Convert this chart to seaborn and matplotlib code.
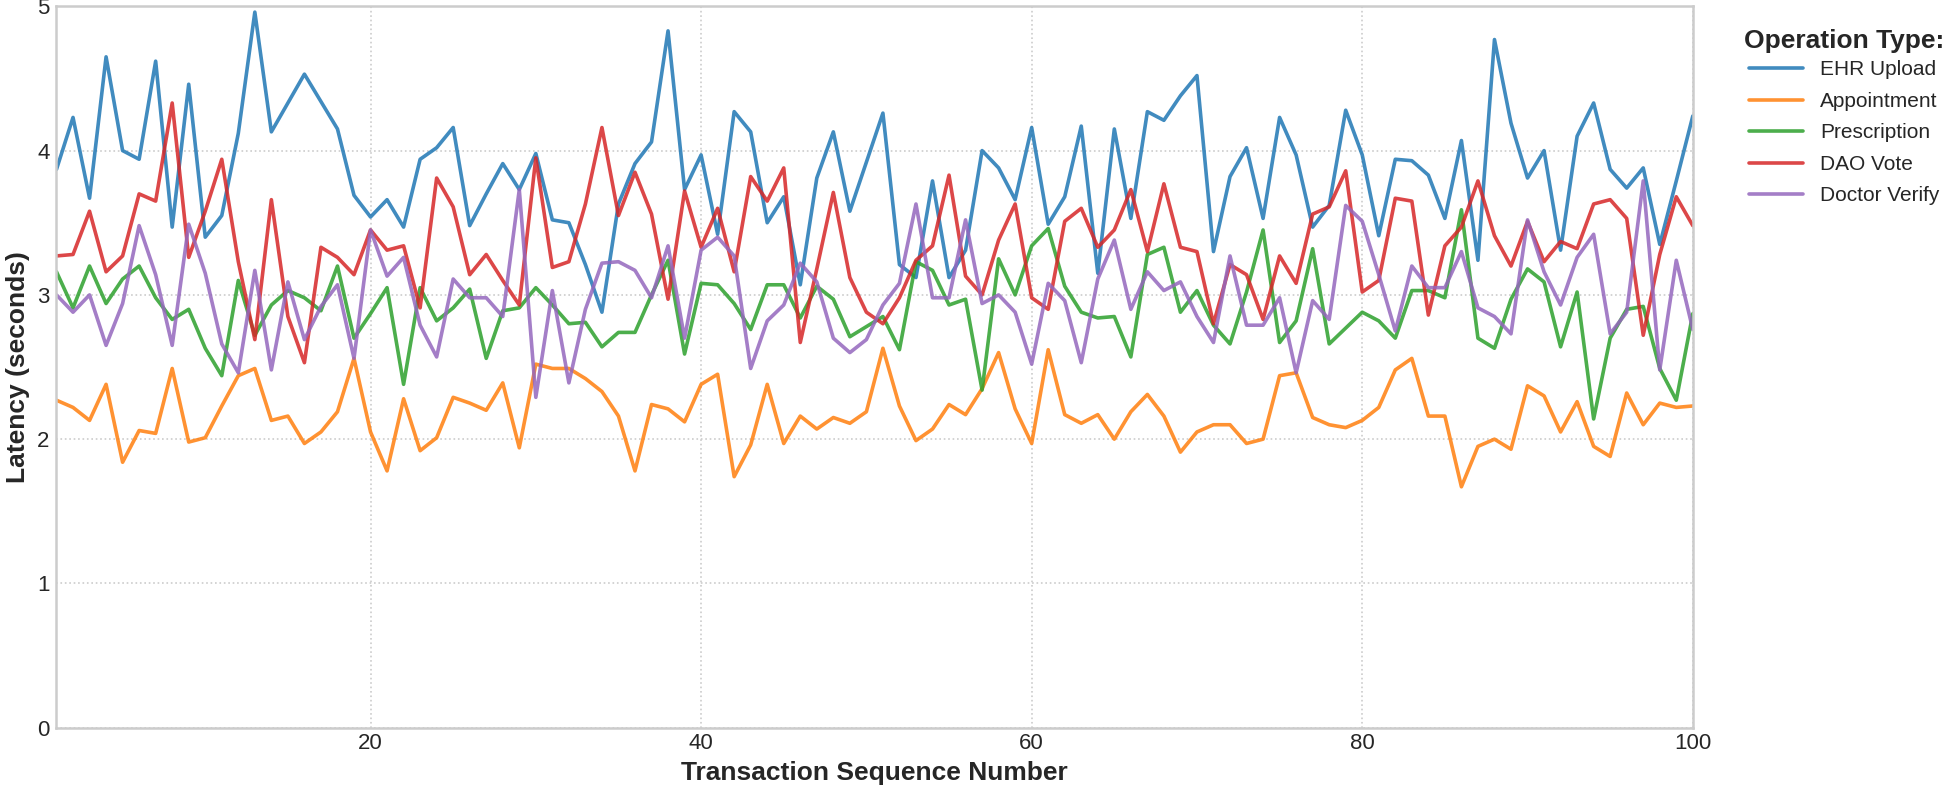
import matplotlib
matplotlib.use("Agg")
import matplotlib.pyplot as plt
import seaborn as sns
import numpy as np
import pandas as pd

# Latency per transaction
seq = list(range(1, 101))

ehr_upload = [
    3.87, 4.23, 3.67, 4.65, 4.00, 3.94, 4.62, 3.47, 4.46, 3.40, 3.55, 4.12, 4.96, 4.13, 4.33,
    4.53, 4.34, 4.15, 3.69, 3.54, 3.66, 3.47, 3.94, 4.02, 4.16, 3.48, 3.70, 3.91, 3.73,
    3.98, 3.52, 3.50, 3.21, 2.88, 3.63, 3.91, 4.06, 4.83, 3.73, 3.97, 3.42, 4.27, 4.13,
    3.50, 3.68, 3.07, 3.81, 4.13, 3.58, 3.92, 4.26, 3.21, 3.12, 3.79, 3.12, 3.31, 4.00,
    3.88, 3.66, 4.16, 3.49, 3.68, 4.17, 3.15, 4.15, 3.53, 4.27, 4.21, 4.38, 4.52, 3.30,
    3.82, 4.02, 3.53, 4.23, 3.97, 3.47, 3.62, 4.28, 3.97, 3.41, 3.94, 3.93, 3.83, 3.53,
    4.07, 3.24, 4.77, 4.19, 3.81, 4.00, 3.31, 4.10, 4.33, 3.87, 3.74, 3.88, 3.35, 3.79, 4.24,
]
appointment = [
    2.27, 2.22, 2.13, 2.38, 1.84, 2.06, 2.04, 2.49, 1.98, 2.01, 2.23, 2.44, 2.49, 2.13, 2.16,
    1.97, 2.05, 2.19, 2.56, 2.05, 1.78, 2.28, 1.92, 2.01, 2.29, 2.25, 2.20, 2.39, 1.94,
    2.52, 2.49, 2.49, 2.42, 2.33, 2.16, 1.78, 2.24, 2.21, 2.12, 2.38, 2.45, 1.74, 1.96,
    2.38, 1.97, 2.16, 2.07, 2.15, 2.11, 2.19, 2.63, 2.23, 1.99, 2.07, 2.24, 2.17, 2.35,
    2.60, 2.21, 1.97, 2.62, 2.17, 2.11, 2.17, 2.00, 2.19, 2.31, 2.16, 1.91, 2.05, 2.10,
    2.10, 1.97, 2.00, 2.44, 2.46, 2.15, 2.10, 2.08, 2.13, 2.22, 2.48, 2.56, 2.16, 2.16,
    1.67, 1.95, 2.00, 1.93, 2.37, 2.30, 2.05, 2.26, 1.95, 1.88, 2.32, 2.10, 2.25, 2.22, 2.23,
]
prescription = [
    3.16, 2.91, 3.20, 2.94, 3.11, 3.20, 2.98, 2.83, 2.90, 2.63, 2.44, 3.10, 2.72, 2.93, 3.03,
    2.98, 2.89, 3.20, 2.70, 2.87, 3.05, 2.38, 3.05, 2.82, 2.91, 3.04, 2.56, 2.89, 2.91,
    3.05, 2.93, 2.80, 2.81, 2.64, 2.74, 2.74, 3.00, 3.24, 2.59, 3.08, 3.07, 2.94, 2.76,
    3.07, 3.07, 2.84, 3.06, 2.97, 2.71, 2.78, 2.85, 2.62, 3.23, 3.17, 2.93, 2.97, 2.34,
    3.25, 3.00, 3.34, 3.46, 3.06, 2.88, 2.84, 2.85, 2.57, 3.28, 3.33, 2.88, 3.03, 2.79,
    2.66, 3.02, 3.45, 2.67, 2.82, 3.32, 2.66, 2.77, 2.88, 2.82, 2.70, 3.03, 3.03, 2.98,
    3.59, 2.70, 2.63, 2.97, 3.18, 3.09, 2.64, 3.02, 2.14, 2.70, 2.90, 2.92, 2.49, 2.27, 2.87,
]
dao_vote = [
    3.27, 3.28, 3.58, 3.16, 3.27, 3.70, 3.65, 4.33, 3.26, 3.58, 3.94, 3.23, 2.69, 3.66, 2.85,
    2.53, 3.33, 3.26, 3.14, 3.45, 3.31, 3.34, 2.91, 3.81, 3.61, 3.14, 3.28, 3.10, 2.93,
    3.95, 3.19, 3.23, 3.63, 4.16, 3.55, 3.85, 3.56, 2.97, 3.72, 3.33, 3.60, 3.16, 3.82,
    3.65, 3.88, 2.67, 3.18, 3.71, 3.12, 2.88, 2.80, 2.98, 3.24, 3.34, 3.83, 3.13, 3.00,
    3.38, 3.63, 2.98, 2.90, 3.51, 3.60, 3.33, 3.45, 3.73, 3.30, 3.77, 3.33, 3.30, 2.80,
    3.21, 3.14, 2.83, 3.27, 3.08, 3.56, 3.61, 3.86, 3.02, 3.10, 3.67, 3.65, 2.86, 3.34,
    3.47, 3.79, 3.41, 3.20, 3.51, 3.23, 3.37, 3.32, 3.63, 3.66, 3.53, 2.72, 3.28, 3.68, 3.48,
]
doctor_verify = [
    3.00, 2.88, 3.00, 2.65, 2.94, 3.48, 3.14, 2.65, 3.49, 3.15, 2.66, 2.46, 3.17, 2.48, 3.09,
    2.69, 2.92, 3.07, 2.56, 3.45, 3.13, 3.26, 2.79, 2.57, 3.11, 2.98, 2.98, 2.85, 3.73,
    2.29, 3.03, 2.39, 2.90, 3.22, 3.23, 3.17, 2.98, 3.34, 2.70, 3.31, 3.40, 3.27, 2.49,
    2.82, 2.93, 3.22, 3.09, 2.70, 2.60, 2.69, 2.93, 3.08, 3.63, 2.98, 2.98, 3.52, 2.94,
    3.00, 2.88, 2.52, 3.08, 2.96, 2.53, 3.11, 3.38, 2.90, 3.16, 3.03, 3.09, 2.85, 2.67,
    3.27, 2.79, 2.79, 2.98, 2.46, 2.96, 2.83, 3.62, 3.51, 3.14, 2.75, 3.20, 3.05, 3.05,
    3.30, 2.91, 2.85, 2.73, 3.52, 3.16, 2.93, 3.26, 3.42, 2.73, 2.88, 3.79, 2.48, 3.24, 2.76,
]

operations = ["EHR Upload", "Appointment", "Prescription", "DAO Vote", "Doctor Verify"]
series = [ehr_upload, appointment, prescription, dao_vote, doctor_verify]

frames = []
for name, values in zip(operations, series):
    frames.append(pd.DataFrame({"seq": seq, "latency": values, "op": name}))
df = pd.concat(frames, ignore_index=True)

sns.set_theme(style="whitegrid")
plt.rcParams["font.family"] = ["Liberation Sans", "DejaVu Sans"]

fig, ax = plt.subplots(figsize=(19.48, 7.91), dpi=100)
fig.subplots_adjust(left=0.029, right=0.869, top=0.992, bottom=0.080)

palette = sns.color_palette("tab10", 5)
sns.lineplot(data=df, x="seq", y="latency", hue="op", hue_order=operations,
             palette=palette, linewidth=2.6, alpha=0.85, ax=ax)

ax.set_xlim(1, 100)
ax.set_ylim(0, 5)
ax.set_xticks([20, 40, 60, 80, 100])
ax.set_yticks([0, 1, 2, 3, 4, 5])
ax.tick_params(axis="both", labelsize=16, length=0)
ax.tick_params(axis="y", pad=5)
ax.tick_params(axis="x", pad=4)
ax.set_xlabel("Transaction Sequence Number", fontsize=19, fontweight="bold", labelpad=5)
ax.set_ylabel("Latency (seconds)", fontsize=19, fontweight="bold", labelpad=5)

ax.grid(True, linestyle=":", color="#cccccc", linewidth=1.2)
for side in ax.spines.values():
    side.set_color("#cccccc")
    side.set_linewidth(1.8)

leg = ax.legend(title="Operation Type:", loc="upper left", bbox_to_anchor=(1.02, 0.994),
                frameon=False, fontsize=15, title_fontsize=19, handlelength=2.6,
                labelspacing=0.6)
leg.get_title().set_fontweight("bold")
# tighter gap between the title and the first entry
leg._legend_box.sep = 5
for line in leg.get_lines():
    line.set_linewidth(2.6)

plt.savefig("out.png", dpi=100)
plt.close()
